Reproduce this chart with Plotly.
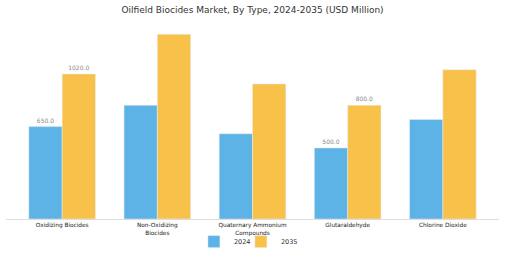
import plotly.graph_objects as go

categories = ["Oxidizing Biocides", "Non-Oxidizing<br>Biocides", "Quaternary Ammonium<br>Compounds", "Glutaraldehyde", "Chlorine Dioxide"]
values_2024 = [650, 800, 600, 500, 700]
values_2035 = [1020, 1300, 950, 800, 1050]
labels_2024 = ["650.0", "", "", "500.0", ""]
labels_2035 = ["1020.0", "", "", "800.0", ""]

fig = go.Figure()
fig.add_trace(go.Bar(x=categories, y=values_2024, name="2024", marker_color="#5DB3E6",
                     text=labels_2024, textposition="outside", cliponaxis=False,
                     textfont=dict(size=6, color="#888888"), legend="legend", showlegend=True))
fig.add_trace(go.Bar(x=categories, y=values_2035, name="2035", marker_color="#F8C24A",
                     text=labels_2035, textposition="outside", cliponaxis=False,
                     textfont=dict(size=6, color="#888888"), legend="legend2", showlegend=True))

leg_common = dict(orientation="h", xref="container", xanchor="left", yref="container", y=0.045,
                  yanchor="middle", font=dict(size=6.5), itemwidth=30, bgcolor="rgba(0,0,0,0)")

fig.update_layout(
    width=505, height=253,
    showlegend=True,
    margin=dict(l=6, r=6, t=25, b=33.5, autoexpand=False),
    paper_bgcolor="white", plot_bgcolor="white",
    barmode="group", bargap=0.3, bargroupgap=0,
    font=dict(family="DejaVu Sans", color="#333333"),
    title=dict(text="Oilfield Biocides Market, By Type, 2024-2035 (USD Million)",
               x=0.5, xanchor="center", y=0.96, yanchor="middle",
               font=dict(size=9, color="#333333")),
    legend=dict(x=0.384, **leg_common),
    legend2=dict(x=0.477, **leg_common),
    xaxis=dict(showline=True, linecolor="#dddddd", linewidth=1, ticks="", automargin=False,
               tickfont=dict(size=5.8, color="#222222"), range=[-0.59, 4.59]),
    yaxis=dict(visible=False, range=[0, 1365], showgrid=False),
)
fig.write_html("out.html")
